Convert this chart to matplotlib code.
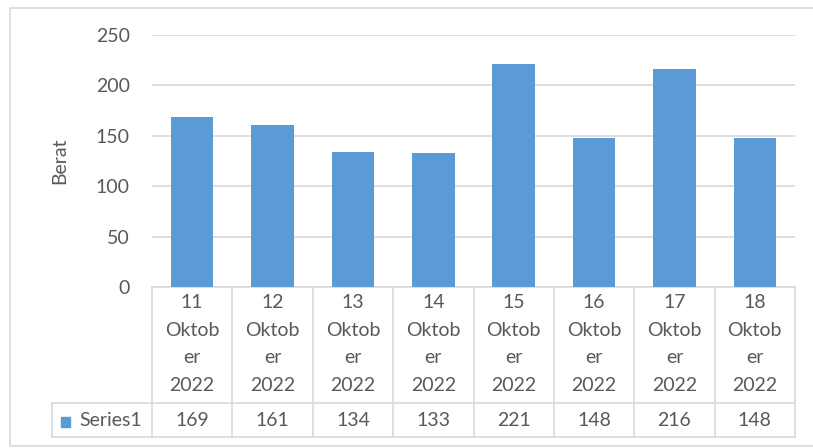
import matplotlib.pyplot as plt
from matplotlib.patches import Rectangle
import numpy as np

# dados
dias = ["11", "12", "13", "14", "15", "16", "17", "18"]
mes = "Oktober"
ano = "2022"
berat = [169, 161, 134, 133, 221, 148, 216, 148]
serie = "Series1"

azul = "#5B9BD5"
cinza_txt = "#595959"
cinza_linha = "#D9D9D9"
fs = 14

plt.rcParams['font.family'] = ['Lato', 'DejaVu Sans']

W, H = 813, 448
fig = plt.figure(figsize=(W / 100, H / 100), dpi=100)

# area do grafico (pixels da referencia)
x0, x1 = 152, 795
y_top, y_zero = 35, 287
ax = fig.add_axes([x0 / W, 1 - y_zero / H, (x1 - x0) / W, (y_zero - y_top) / H])

x = np.arange(len(berat))
ax.bar(x, berat, width=0.53, color=azul, zorder=3)
ax.set_xlim(-0.5, len(berat) - 0.5)
ax.set_ylim(0, 250)
ax.set_yticks(range(0, 251, 50))
ax.yaxis.grid(True, color=cinza_linha, linewidth=1.2, zorder=0)
ax.set_xticks([])
for s in ax.spines.values():
    s.set_visible(False)
ax.tick_params(axis='y', length=0, pad=16, labelsize=fs, labelcolor=cinza_txt)
ax.set_ylabel("Berat", fontsize=fs, color=cinza_txt, labelpad=20)

# tabela de dados
ph = y_zero - y_top


def fy(ypx):
    return (y_zero - ypx) / ph


trans = ax.get_xaxis_transform()
lk = dict(color=cinza_linha, linewidth=1.2, clip_on=False, transform=ax.transAxes)
x_left = (52 - x0) / (x1 - x0)
ax.plot([0, 1], [0, 0], **lk)
ax.plot([x_left, 1], [fy(403), fy(403)], **lk)
ax.plot([x_left, 1], [fy(437), fy(437)], **lk)
ax.plot([x_left, x_left], [fy(403), fy(437)], **lk)
for i in range(len(berat) + 1):
    xf = i / len(berat)
    ax.plot([xf, xf], [0, fy(437)], **lk)

linhas = [fy(303), fy(330), fy(357), fy(385)]
for i, d in enumerate(dias):
    for yy, t in zip(linhas, [d, mes[:5], mes[5:], ano]):
        ax.text(i, yy, t, transform=trans, ha='center', va='center',
                fontsize=fs, color=cinza_txt, clip_on=False)
    ax.text(i, fy(420), str(berat[i]), transform=trans, ha='center',
            va='center', fontsize=fs, color=cinza_txt, clip_on=False)

# legenda da tabela
fig.patches.append(Rectangle((61 / W, 1 - 427 / H), 9 / W, 10 / H,
                             transform=fig.transFigure, color=azul))
fig.text(111 / W, 1 - 420 / H, serie, ha='center', va='center',
         fontsize=fs, color=cinza_txt)

# moldura do grafico
fig.patches.append(Rectangle((10 / W, 1 - 446 / H), (W + 5) / W, 438 / H,
                             transform=fig.transFigure, fill=False,
                             edgecolor=cinza_linha, linewidth=1.2))

fig.savefig("out.png", dpi=100)
